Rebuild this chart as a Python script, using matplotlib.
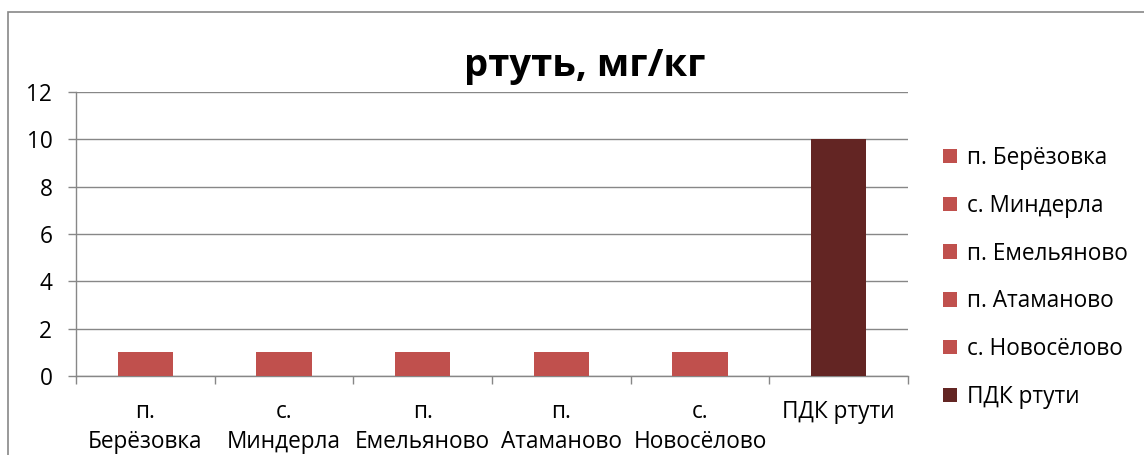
import matplotlib.pyplot as plt
from matplotlib.patches import Patch, Rectangle

plt.rcParams['font.family'] = ['Open Sans', 'DejaVu Sans']

# mercury content, mg/kg
places = ['п. Берёзовка', 'с. Миндерла', 'п. Емельяново', 'п. Атаманово', 'с. Новосёлово', 'ПДК ртути']
tick_labels = ['п.\nБерёзовка', 'с.\nМиндерла', 'п.\nЕмельяново', 'п.\nАтаманово', 'с.\nНовосёлово', 'ПДК ртути']
values = [1, 1, 1, 1, 1, 10]
colors = ['#C0504D', '#C0504D', '#C0504D', '#C0504D', '#C0504D', '#632523']

grid_col = '#878787'
fs = 16.3

fig = plt.figure(figsize=(11.44, 4.55), dpi=100)
ax = fig.add_axes([0.0664, 0.1736, 0.7273, 0.6242])

handles = []
for i, (name, v, c) in enumerate(zip(places, values, colors)):
    ax.bar(i, v, width=0.4, color=c, zorder=3)
    handles.append(Patch(facecolor=c, label=name))

ax.set_xlim(-0.5, len(places) - 0.5)
ax.set_ylim(0, 12)
ax.set_yticks(range(0, 13, 2))
ax.grid(axis='y', color=grid_col, linewidth=1, zorder=0)

ax.set_xticks(range(len(places)))
ax.set_xticklabels(tick_labels, linespacing=1.36, va='top')
ax.set_xticks([i - 0.5 for i in range(len(places) + 1)], minor=True)
ax.tick_params(axis='x', which='major', length=0, pad=17, labelsize=fs)
ax.tick_params(axis='x', which='minor', length=6, width=1, color=grid_col, direction='out')
ax.tick_params(axis='y', length=6, width=1, color=grid_col, pad=11, labelsize=fs)

for s in ['top', 'right']:
    ax.spines[s].set_visible(False)
for s in ['left', 'bottom']:
    ax.spines[s].set_color(grid_col)
    ax.spines[s].set_linewidth(1)

fig.text(0.511, 0.855, 'ртуть, мг/кг', ha='center', va='center', fontsize=27.5, fontweight='bold')

fig.legend(handles=handles, loc='center left', bbox_to_anchor=(0.8245, 0.39), frameon=False,
           fontsize=fs, handlelength=0.6, handleheight=0.6, handletextpad=0.45,
           labelspacing=1.05, borderpad=0, borderaxespad=0)

# outer chart border
fig.patches.append(Rectangle((8 / 1144, -0.5), 2, 1.5 - 12 / 455, transform=fig.transFigure,
                             fill=False, edgecolor=grid_col, linewidth=1.2))

fig.savefig('out.png', dpi=100)
